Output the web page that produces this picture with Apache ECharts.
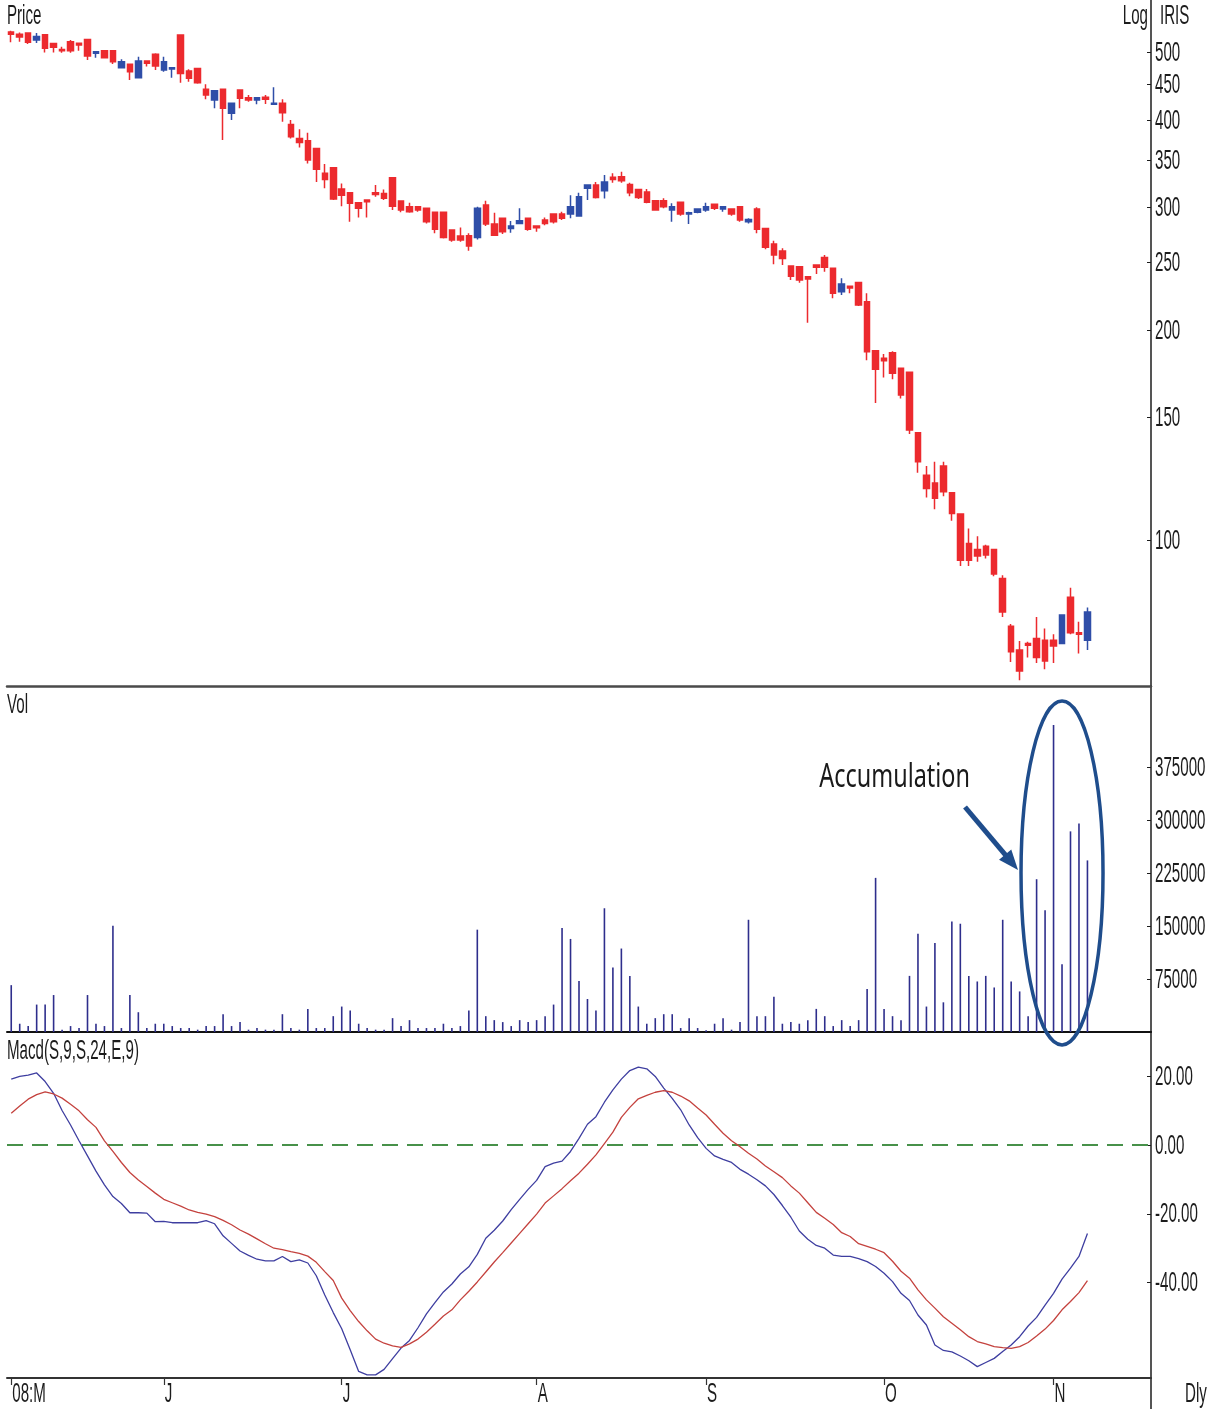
<!DOCTYPE html>
<html>
<head>
<meta charset="utf-8">
<title>IRIS daily</title>
<script src="https://cdn.jsdelivr.net/npm/echarts@6/dist/echarts.min.js"></script>
<style>
  html, body { margin: 0; padding: 0; background: #ffffff; }
  #chart { width: 1223px; height: 1409px; }
</style>
</head>
<body>
<div id="chart"></div>
<script>
// Daily OHLC, one entry per trading session (May 2008 .. early November 2008)
const openP = [535, 531, 533, 521, 530, 515, 505, 518, 515.3, 522,
  498.5, 502.8, 502.8, 475.4, 480.8, 460, 486.1, 496.9, 471.9, 473.5,
  529.5, 470.2, 474.4, 442.8, 427.4, 442.8, 409, 441.8, 430.7, 427.4,
  431.3, 421.4, 422.7, 394.3, 376.5, 373.5, 364.3, 335.6, 341.7, 318.5,
  314.7, 304.5, 307.2, 314.7, 313.9, 330.7, 306.2, 300.5, 300.5, 298.9,
  295, 295, 278.3, 272.8, 273.1, 271.6, 302.2, 283.8, 289.2, 279.8,
  284.4, 289.2, 281.9, 287.6, 293.4, 293.4, 293.4, 291.4, 319.3, 322.8,
  316.7, 331.1, 331.8, 323.5, 318.1, 315.6, 306.6, 306.6, 297.2, 304.9,
  293.4, 295, 297.2, 302.9, 298.2, 298.2, 300.5, 285.9, 298.2, 279.8,
  265.8, 259.6, 247.1, 246.5, 238.5, 247.9, 254.2, 245.3, 227, 231.2,
  234.1, 219.6, 186.8, 182.2, 185.6, 176.3, 174, 142.5, 123.9, 120.8,
  127.7, 116.9, 109, 98.9, 97, 98, 97, 88.1, 75.3, 69.6,
  71.1, 72.3, 71.9, 71.9, 71.1, 82.8, 73.7, 71.9];
const highP = [537, 534, 533, 533, 531, 515, 509.6, 521, 515.3, 522,
  501.1, 502.8, 502.8, 488.9, 480.8, 493.1, 486.1, 498.5, 493.1, 475.4,
  529.5, 472.9, 474.4, 450.3, 440.8, 444, 422.7, 441.8, 434.6, 430.7,
  434.6, 445.7, 428.4, 400, 388, 383.6, 364.3, 345.9, 341.7, 324.5,
  314.7, 304.5, 307.2, 322.8, 318.1, 330.7, 306.2, 304.5, 300.5, 298.9,
  295, 295, 278.3, 280.7, 275.3, 300.5, 306.6, 294.6, 289.2, 286.6,
  298.9, 289.2, 281.9, 290, 293.4, 295.6, 312.2, 314.7, 322.8, 326.2,
  333.7, 335.6, 337.3, 325.2, 318.1, 318.5, 306.6, 309, 303.9, 304.9,
  295.6, 298.2, 304.5, 302.9, 300.5, 298.2, 300.5, 289.2, 299.9, 279.8,
  268.6, 262.1, 247.1, 246.5, 238.5, 247.9, 256.2, 245.3, 237.3, 231.2,
  234.1, 225.8, 186.8, 184.8, 186.5, 176.3, 174, 142.5, 127.7, 129.5,
  129.5, 116.9, 109, 103.9, 101.3, 98.5, 97, 89.1, 75.8, 71.7,
  71.5, 77.6, 74.7, 73.3, 78.1, 85.5, 76.4, 80.1];
const lowP = [517, 518, 514, 516, 500, 500, 499.6, 499.6, 502.8, 487.7,
  491.4, 490, 481.3, 475.4, 456.6, 460, 477.2, 471.9, 469.2, 460,
  452.4, 454, 451, 428.4, 415.8, 374.4, 400, 415.8, 424.9, 421.4,
  421.8, 421.4, 397.7, 376.5, 365.5, 346.7, 326.2, 319.3, 307.2, 301.1,
  285.9, 290, 290, 310.6, 307.2, 297.2, 295, 294.7, 295.6, 284.4,
  275.3, 270.6, 267.8, 267.8, 259.9, 269.8, 281.9, 272.8, 274.6, 275.8,
  284.4, 277.6, 276.7, 282.7, 284.4, 287.6, 289.2, 291.4, 307.2, 308.9,
  308.9, 325.2, 325.2, 311.2, 308.3, 303.9, 296.6, 298.9, 285.9, 291.8,
  283.8, 294, 295.6, 297.2, 295.6, 291.8, 285.9, 284.4, 275.3, 261.1,
  248.5, 247.9, 235.9, 233.8, 204.9, 240.6, 242.4, 222.1, 224.5, 225.8,
  216.5, 181.1, 157.3, 171.1, 170, 159.6, 141.9, 124.9, 115.1, 110.7,
  115.6, 106.6, 91.8, 91.8, 93.1, 94.1, 88.8, 77.6, 66.9, 63,
  67.9, 66.7, 65.3, 66.7, 71.1, 73.3, 68.8, 69.6];
const closeP = [531, 526, 517, 527, 507, 508.5, 502.8, 502.8, 512.4, 494.2,
  501.1, 491.4, 485, 485, 469.2, 486.1, 482.4, 478.3, 485, 475.4,
  466.6, 459.1, 452.4, 434.6, 440.8, 415.8, 422.7, 429.8, 427.4, 430.7,
  428.4, 422.7, 409.9, 378.5, 371.6, 350.5, 340, 328.9, 308.3, 312.2,
  303.9, 298.9, 305.5, 313, 309, 301.1, 297.2, 295.6, 297.2, 285.9,
  278.9, 271.6, 269.2, 269.2, 264, 298.9, 283.8, 273.6, 276.7, 281.9,
  287, 278.9, 280.4, 284.4, 285.9, 289.2, 300.5, 310.6, 322.8, 309.9,
  326.2, 328.9, 327.3, 314.7, 309.9, 304.9, 297.2, 300.5, 300.5, 293.4,
  294.6, 298.2, 300.5, 298.9, 300.5, 293.4, 287.6, 288.2, 278.9, 262.8,
  256.2, 253.4, 239, 235.9, 236.7, 246.1, 246.1, 225.8, 232.8, 229.9,
  217.3, 186.2, 175.7, 180.7, 173.4, 161.4, 143.8, 129.5, 118.6, 114.8,
  117.3, 109.2, 93.6, 93.6, 94.9, 95.2, 89.4, 78.9, 69.2, 64.95,
  70.7, 67.9, 67.1, 70.5, 78.1, 73.7, 73.3, 78.9];

// Daily volume
const volume = [66300, 11700, 8400, 38800, 38800, 52300, 3300, 8400, 5600, 52300,
  11700, 8400, 150400, 5600, 52300, 28000, 5600, 11700, 11700, 8400,
  5600, 5600, 3300, 8400, 8400, 25200, 8400, 14000, 3300, 5600,
  3300, 3300, 25200, 5600, 3300, 32700, 5600, 5600, 22400, 36000,
  30400, 11700, 5600, 3300, 3300, 19600, 8400, 16800, 5600, 5600,
  5600, 11700, 5600, 8400, 30400, 144800, 22400, 16800, 14000, 8400,
  16800, 14000, 16800, 22400, 38800, 147100, 131700, 72000, 46700, 30400,
  175100, 91100, 118100, 79400, 36000, 11700, 19600, 25200, 25200, 5600,
  19600, 5600, 2500, 11700, 19600, 3300, 14000, 158800, 22400, 22400,
  50000, 11700, 14000, 11700, 16800, 32700, 22400, 8400, 16800, 8400,
  16800, 60700, 218100, 32700, 22400, 16800, 79400, 139200, 36000, 126100,
  42000, 156400, 153200, 79400, 71500, 79400, 63000, 158800, 71500, 57400,
  22400, 216200, 172300, 434300, 95700, 283900, 295100, 242800];

// MACD (S,9,S,24,E,9): macd line and its signal line
const macdLine = [19.1, 19.9, 20.3, 20.9, 18.4, 15.0, 10.0, 5.8, 1.2, -3.2,
  -7.6, -11.6, -15.0, -17.0, -19.7, -19.7, -19.8, -22.3, -22.2, -22.6,
  -22.6, -22.6, -22.6, -22.0, -22.9, -26.4, -28.6, -30.8, -32.1, -33.2,
  -33.7, -33.7, -32.4, -33.9, -33.4, -34.3, -38.0, -43.6, -48.7, -53.4,
  -59.5, -65.8, -66.8, -66.8, -65.2, -62.1, -59.0, -56.8, -53.1, -49.1,
  -45.8, -42.7, -40.4, -37.5, -35.4, -31.8, -27.1, -24.8, -22.1, -18.8,
  -15.8, -12.9, -10.3, -6.3, -5.3, -4.7, -1.9, 1.9, 6.0, 8.2,
  12.4, 16.0, 19.1, 21.6, 22.6, 22.1, 19.9, 16.5, 13.5, 10.2,
  5.8, 2.1, -1.0, -3.2, -4.2, -5.1, -7.1, -8.5, -10.1, -11.9,
  -14.4, -17.6, -21.0, -25.0, -27.4, -29.2, -30.0, -32.0, -32.4, -32.4,
  -33.0, -33.9, -35.3, -37.3, -39.7, -43.1, -45.2, -49.4, -52.3, -58.1,
  -59.7, -60.1, -61.3, -62.7, -64.4, -63.2, -62.0, -60.0, -58.1, -55.7,
  -52.6, -50.1, -46.5, -43.1, -39.0, -35.8, -32.4, -25.7];
const signalLine = [9.2, 11.3, 13.3, 14.6, 15.4, 14.8, 13.6, 11.8, 9.9, 7.3,
  5.1, 1.2, -1.9, -5.1, -8.0, -10.2, -12.1, -14.0, -15.8, -16.8,
  -17.8, -18.9, -19.6, -20.1, -20.8, -21.9, -23.2, -24.7, -25.9, -27.3,
  -28.7, -30.0, -30.4, -31.0, -31.5, -32.3, -34.1, -36.8, -39.4, -44.5,
  -48.1, -51.3, -54.0, -56.4, -57.6, -58.4, -58.8, -57.8, -56.4, -54.4,
  -52.1, -49.7, -47.9, -45.0, -42.5, -39.8, -36.9, -34.0, -31.3, -28.5,
  -25.7, -22.9, -20.1, -16.9, -14.8, -12.7, -10.4, -8.2, -5.6, -2.9,
  0.4, 3.7, 8.0, 10.9, 13.4, 14.4, 15.3, 15.8, 15.3, 14.2,
  12.8, 10.7, 8.7, 6.0, 3.4, 1.2, -0.5, -2.4, -4.1, -6.1,
  -7.8, -9.5, -11.9, -14.0, -16.8, -19.6, -21.3, -23.1, -25.5, -26.6,
  -28.7, -29.5, -30.3, -31.3, -33.8, -36.7, -38.7, -42.1, -45.0, -47.4,
  -49.9, -51.8, -53.7, -55.7, -57.1, -57.8, -58.6, -58.9, -59.1, -58.6,
  -57.4, -55.5, -53.5, -51.0, -47.9, -45.5, -42.9, -39.4];

// Month boundaries on the date axis (session index of the first day of each month)
const monthStarts = [0, 18, 39, 62, 82, 103, 123];
const monthLabels = ['08:M', 'J', 'J', 'A', 'S', 'O', 'N'];

// Axis tick values
const priceTicks = [100, 150, 200, 250, 300, 350, 400, 450, 500];
const volTicks = [75000, 150000, 225000, 300000, 375000];
const macdTicks = [-40, -20, 0, 20];

// The time axis keeps a few empty sessions on the right-hand side
const SLOTS = 135;
const sessions = Array.from({ length: SLOTS }, (_, i) => 'd' + i);

// Narrow, tall terminal-style lettering: a regular face squeezed horizontally
const FACE = '"Liberation Sans", Arial, sans-serif';
const FONT_SIZE = 28;
const SQUEEZE = 0.54;
const INK = '#1c1c1c';
const RED = '#ec2a2e';
const BLUE = '#2f4ea8';
const VOLC = '#2e2e8c';
const MACD_BLUE = '#3e3ea0';
const MACD_RED = '#c4423e';
const ZERO_GREEN = '#47914a';
const NOTE = '#1f4d8c';

const GRID_L = 7, GRID_R = 72;
const isMonthStart = (idx) => monthStarts.indexOf(idx) !== -1;

const chart = echarts.init(document.getElementById('chart'), null, { renderer: 'canvas' });

function baseX(gridIndex, extra) {
  return Object.assign({
    type: 'category',
    gridIndex: gridIndex,
    data: sessions,
    boundaryGap: true,
    axisTick: { show: false },
    axisLabel: { show: false },
    splitLine: { show: false }
  }, extra);
}

function baseY(gridIndex, extra) {
  return Object.assign({
    gridIndex: gridIndex,
    position: 'right',
    axisLine: { show: true, onZero: false, lineStyle: { color: INK, width: 1.5 } },
    axisLabel: { show: false },
    splitLine: { show: false }
  }, extra);
}

const option = {
  animation: false,
  backgroundColor: '#ffffff',
  grid: [
    { left: GRID_L, right: GRID_R, top: 0, height: 686, outerBoundsMode: 'none' },
    { left: GRID_L, right: GRID_R, top: 686, height: 346, outerBoundsMode: 'none' },
    { left: GRID_L, right: GRID_R, top: 1032, height: 346, outerBoundsMode: 'none' }
  ],
  xAxis: [
    baseX(0, { axisLine: { show: true, onZero: false, lineStyle: { color: '#4a4a4a', width: 2.5 } } }),
    baseX(1, { axisLine: { show: true, onZero: false, lineStyle: { color: '#111111', width: 2 } } }),
    baseX(2, {
      axisLine: { show: true, onZero: false, lineStyle: { color: '#333333', width: 2 } },
      axisTick: {
        show: true, alignWithLabel: true, length: 7,
        interval: (idx) => isMonthStart(idx),
        lineStyle: { color: '#333333', width: 1.2 }
      }
    })
  ],
  yAxis: [
    baseY(0, {
      type: 'log',
      logBase: 10,
      min: 61.8,
      max: 594.5,
      axisTick: { show: true, inside: true, length: 4, customValues: priceTicks, lineStyle: { color: INK } }
    }),
    baseY(1, {
      type: 'value',
      min: 0,
      max: 489600,
      axisTick: { show: true, inside: true, length: 4, customValues: volTicks, lineStyle: { color: INK } }
    }),
    baseY(2, {
      type: 'value',
      min: -67.7,
      max: 32.8,
      axisTick: { show: true, inside: true, length: 4, customValues: macdTicks, lineStyle: { color: INK } }
    })
  ],
  series: [
    {
      name: 'Price',
      type: 'candlestick',
      xAxisIndex: 0,
      yAxisIndex: 0,
      barWidth: 6,
      data: openP.map((o, i) => [o, closeP[i], lowP[i], highP[i]]),
      itemStyle: {
        color: BLUE, color0: RED,
        borderColor: BLUE, borderColor0: RED,
        borderWidth: 1.5
      }
    },
    {
      name: 'Vol',
      type: 'bar',
      xAxisIndex: 1,
      yAxisIndex: 1,
      barWidth: 1.6,
      data: volume,
      itemStyle: { color: VOLC }
    },
    {
      name: 'Macd',
      type: 'line',
      xAxisIndex: 2,
      yAxisIndex: 2,
      data: macdLine,
      symbol: 'none',
      z: 3,
      lineStyle: { color: MACD_BLUE, width: 1.3 },
      markLine: {
        silent: true,
        symbol: ['none', 'none'],
        label: { show: false },
        z: 1,
        lineStyle: { color: ZERO_GREEN, width: 2.2, type: [16, 9] },
        emphasis: { disabled: true },
        data: [{ yAxis: 0 }]
      }
    },
    {
      name: 'Signal',
      type: 'line',
      xAxisIndex: 2,
      yAxisIndex: 2,
      data: signalLine,
      symbol: 'none',
      z: 3,
      lineStyle: { color: MACD_RED, width: 1.3 }
    }
  ]
};

chart.setOption(option);

// ---- text layer: axis values, captions and the volume annotation ----
const axisX = 1223 - GRID_R;

function label(text, x, y, opts) {
  opts = opts || {};
  return {
    type: 'text',
    x: x, y: y,
    scaleX: opts.squeeze || SQUEEZE,
    silent: true,
    z: 20,
    style: {
      text: text,
      fill: opts.fill || INK,
      font: (opts.size || FONT_SIZE) + 'px ' + (opts.face || FACE),
      textAlign: opts.align || 'left',
      textVerticalAlign: opts.valign || 'middle'
    }
  };
}

const texts = [];
priceTicks.forEach((v) => {
  texts.push(label(String(v), axisX + 4, chart.convertToPixel({ yAxisIndex: 0 }, v) + 1));
});
volTicks.forEach((v) => {
  texts.push(label(String(v), axisX + 4, chart.convertToPixel({ yAxisIndex: 1 }, v) + 1));
});
macdTicks.forEach((v) => {
  texts.push(label(v.toFixed(2), axisX + 4, chart.convertToPixel({ yAxisIndex: 2 }, v) + 1));
});
monthStarts.forEach((idx, k) => {
  texts.push(label(monthLabels[k], chart.convertToPixel({ xAxisIndex: 2 }, idx) + 1, 1380, { valign: 'top' }));
});
texts.push(label('Price', 7, 2, { valign: 'top' }));
texts.push(label('Vol', 7, 691, { valign: 'top' }));
texts.push(label('Macd(S,9,S,24,E,9)', 7, 1037, { valign: 'top' }));
texts.push(label('Log', axisX - 3, 2, { valign: 'top', align: 'right' }));
texts.push(label('IRIS', axisX + 9, 2, { valign: 'top' }));
texts.push(label('Dly', axisX + 34, 1380, { valign: 'top' }));

// Ellipse around the late high-volume sessions, with an arrow and caption
const cx = chart.convertToPixel({ xAxisIndex: 1 }, 124);
const cy = chart.convertToPixel({ yAxisIndex: 1 }, 225000);
const rx = 41, ry = 172;
const tip = [cx - rx - 3, cy - 3];
const tail = [tip[0] - 53, tip[1] - 63];
const dx = tip[0] - tail[0], dy = tip[1] - tail[1];
const len = Math.sqrt(dx * dx + dy * dy);
const ux = dx / len, uy = dy / len;
const headLen = 20, headHalf = 8;
const base = [tip[0] - ux * headLen, tip[1] - uy * headLen];

const shapes = [
  {
    type: 'line', silent: true,
    shape: { x1: axisX, y1: 1378, x2: axisX, y2: 1409 },
    style: { stroke: INK, lineWidth: 1.5 }
  },
  {
    type: 'ellipse', silent: true, z: 10,
    shape: { cx: cx, cy: cy, rx: rx, ry: ry },
    style: { fill: null, stroke: NOTE, lineWidth: 3.5 }
  },
  {
    type: 'line', silent: true, z: 10,
    shape: { x1: tail[0], y1: tail[1], x2: base[0] + ux * 2, y2: base[1] + uy * 2 },
    style: { stroke: NOTE, lineWidth: 5 }
  },
  {
    type: 'polygon', silent: true, z: 10,
    shape: {
      points: [
        tip,
        [base[0] - uy * headHalf, base[1] + ux * headHalf],
        [base[0] + uy * headHalf, base[1] - ux * headHalf]
      ]
    },
    style: { fill: NOTE }
  },
  label('Accumulation', tail[0] + 5, tail[1] - 13, {
    face: '"Noto Sans", "Open Sans", sans-serif', size: 33, squeeze: 0.71,
    align: 'right', valign: 'bottom', fill: '#1a1a1a'
  })
];

chart.setOption({ graphic: texts.concat(shapes) });
</script>
</body>
</html>
